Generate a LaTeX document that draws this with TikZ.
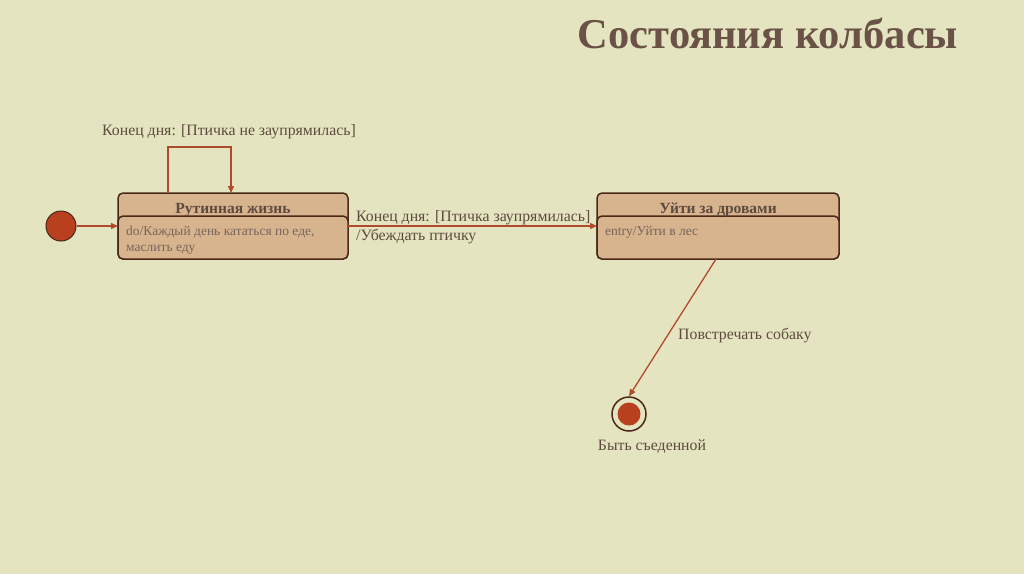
\documentclass[tikz,border=0pt]{standalone}
\usepackage{fontspec}
\setmainfont{Liberation Serif}
\usetikzlibrary{arrows.meta}
\definecolor{bgc}{HTML}{E4E5C0}
\definecolor{boxf}{HTML}{D8B48E}
\definecolor{boxd}{HTML}{4A2818}
\definecolor{arr}{HTML}{B04A2C}
\definecolor{txt}{HTML}{5E4A3E}
\definecolor{ttl}{HTML}{6A5246}
\definecolor{dot}{HTML}{B8401F}
\tikzset{
 stbox/.style={draw=boxd, fill=boxf, line width=1.5pt, rounded corners=5pt},
 tr/.style={draw=arr, line width=1.3pt, -{Triangle[length=7pt,width=6pt]}},
 lbl/.style={text=txt, font=\fontsize{15.8}{18}\selectfont, inner sep=0pt},
 small/.style={text=txt!85, font=\fontsize{13.5}{15.5}\selectfont, inner sep=0pt, align=left, anchor=north west},
 head/.style={text=txt, font=\bfseries\fontsize{15.5}{17}\selectfont, inner sep=0pt}
}
\begin{document}
\begin{tikzpicture}[x=1pt,y=-1pt]
\fill[bgc] (0,0) rectangle (1024,574);
\useasboundingbox (0,0) rectangle (1024,574);
\node[text=ttl, font=\bfseries\fontsize{42.5}{46}\selectfont, inner sep=0pt] (title) at (768,33) {Состояния колбасы};
% left state
\path[stbox] (118,193) rectangle (348,259);
\path[stbox] (118,216) rectangle (348,259);
\node (A) at (233,226) [minimum width=230pt, minimum height=66pt, inner sep=0pt] {};
\node[head] (Ah) at (233,210) {Рутинная жизнь};
\node[small] (Ab) at (126,226) {do/Каждый день кататься по еде,\\маслить еду};
% right state
\path[stbox] (597,193) rectangle (839,259);
\path[stbox] (597,216) rectangle (839,259);
\node (B) at (718,226) [minimum width=242pt, minimum height=66pt, inner sep=0pt] {};
\node[head] (Bh) at (718,210) {Уйти за дровами};
\node[small] (Bb) at (605,226) {entry/Уйти в лес};
% initial
\node[circle, fill=dot, draw=boxd, line width=1pt, minimum size=30pt, inner sep=0pt] (init) at (61,226) {};
% final
\node[circle, draw=boxd, line width=1.5pt, minimum size=34pt, inner sep=0pt] (fin) at (629,414) {};
\node[circle, fill=dot, minimum size=23pt, inner sep=0pt] at (629,414) {};
% transitions
\draw[tr] (init) -- (118,226);
\coordinate (l1) at (168,193);
\coordinate (l2) at (231,193);
\draw[tr] (l1) -- (168,147) -- (231,147) -- (l2);
\node[lbl] (loopl) at (229,132) {Конец дня: [Птичка не заупрямилась]};
\draw[tr] (348,226) -- (597,226);
\node[lbl, anchor=west] (t1) at (356,218) {Конец дня: [Птичка заупрямилась]};
\node[lbl, anchor=west] (t2) at (356,237) {/Убеждать птичку};
\draw[tr] (716,259) -- (fin.north);
\node[lbl, anchor=west] (t3) at (678,336) {Повстречать собаку};
\node[lbl] (fl) at (652,447) {Быть съеденной};
\end{tikzpicture}
\end{document}
